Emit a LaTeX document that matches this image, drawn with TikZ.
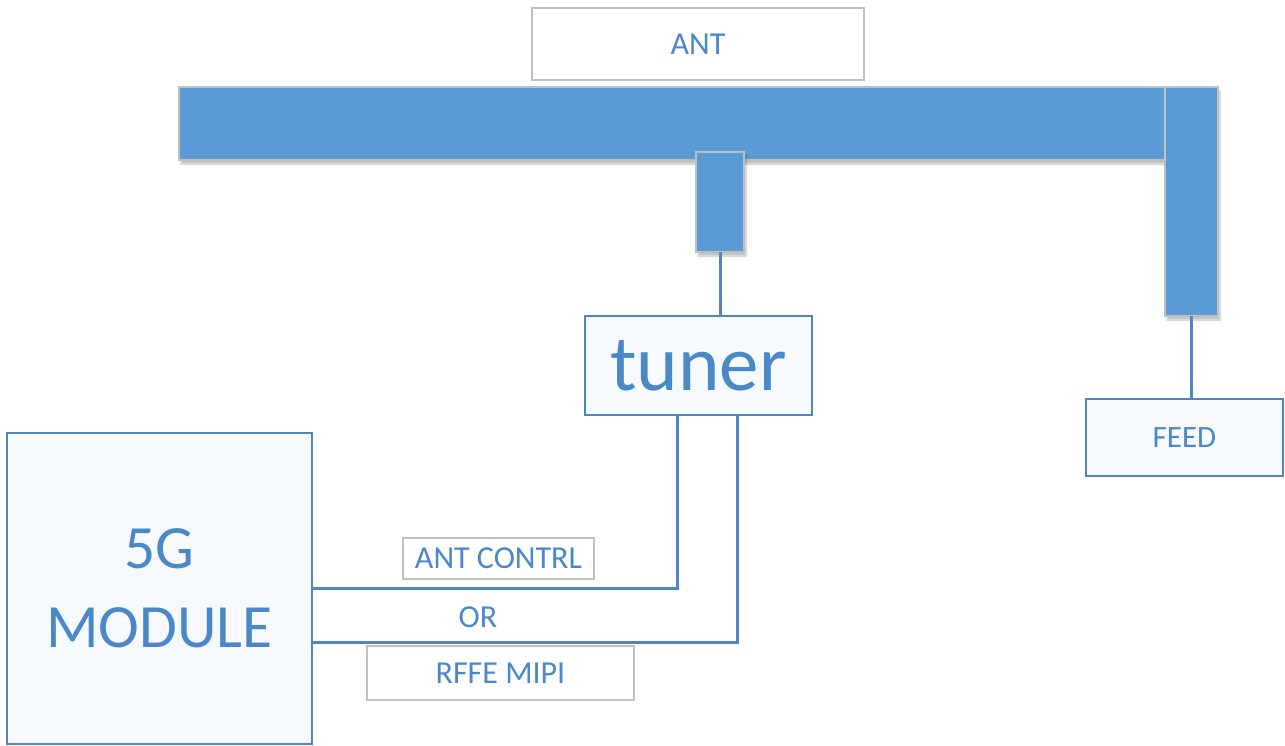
\documentclass[tikz,border=0pt]{standalone}
\usepackage{fontspec}
\setmainfont{Carlito}
\usetikzlibrary{calc,shadows.blur}
\definecolor{barblue}{HTML}{5B9BD5}
\definecolor{edgegray}{HTML}{C0C0C0}
\definecolor{lineblue}{HTML}{5085C0}
\definecolor{txtblue}{HTML}{4A88C8}
\definecolor{boxfill}{HTML}{F6F9FD}
\begin{document}
\begin{tikzpicture}[x=1pt,y=-1pt,
  bar/.style={draw=edgegray, line width=1.5pt, fill=barblue, inner sep=0pt, outer sep=0pt,
    blur shadow={shadow xshift=2pt, shadow yshift=-4pt, shadow blur steps=6, shadow opacity=25}},
  bluebox/.style={draw=lineblue, line width=2pt, fill=boxfill, inner sep=0pt, outer sep=0pt, text=txtblue, align=center},
  graybox/.style={draw=edgegray, line width=1.2pt, fill=white, inner sep=0pt, outer sep=0pt, text=txtblue, font=\fontsize{32}{36}\selectfont},
  conn/.style={draw=lineblue, line width=3pt}]
\useasboundingbox (0,0) rectangle (1285,745);
% antenna
\node[graybox, minimum width=332pt, minimum height=72pt] (ant) at (698,44) {ANT};
\node[bar, minimum width=986pt, minimum height=73pt] (hbar) at (672,123.5) {};
\node[bar, minimum width=53pt, minimum height=229pt] (vbar) at (1191.5,201.5) {};
\node[bar, minimum width=48pt, minimum height=100pt] (stub) at (720,202) {};
% boxes
\node[bluebox, minimum width=227pt, minimum height=99pt, font=\fontsize{79}{80}\selectfont] (tuner) at (698.5,365.5) {tuner};
\node[bluebox, minimum width=197pt, minimum height=77pt, font=\fontsize{31}{36}\selectfont] (feed) at (1184.5,437.5) {FEED};
\node[bluebox, minimum width=305pt, minimum height=311pt, font=\fontsize{61.5}{79}\selectfont] (module) at (159.5,588.5) {5G\\MODULE};
% connectors
\draw[conn] (stub.south) -- (stub.south |- tuner.north);
\draw[conn] (vbar.south) -- (vbar.south |- feed.north);
\draw[conn] ([xshift=-21.5pt]tuner.south) |- (module.east);
\draw[conn] ([xshift=38.5pt]tuner.south) |- ([yshift=-53.5pt]module.east);
% labels
\node[graybox, minimum width=191pt, minimum height=41pt] (antctl) at (498.5,558.5) {ANT CONTRL};
\node[text=txtblue, font=\fontsize{32}{36}\selectfont, inner sep=0pt] (or) at (478,617) {OR};
\node[graybox, minimum width=267pt, minimum height=54pt] (rffe) at (500.5,673) {RFFE MIPI};
\end{tikzpicture}
\end{document}
